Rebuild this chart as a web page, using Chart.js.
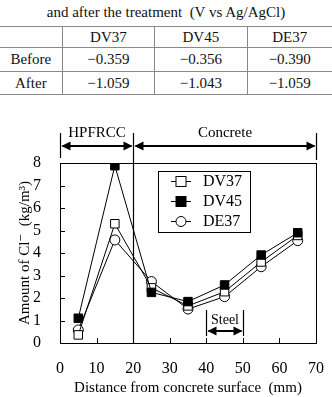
<!DOCTYPE html>
<html>
<head>
<meta charset="utf-8">
<script src="https://cdn.jsdelivr.net/npm/chart.js@4"></script>
<style>
  body { margin: 0; background: #fff; width: 332px; height: 397px; overflow: hidden; font-family: "Liberation Serif", "Times New Roman", "DejaVu Serif", serif; }
  #cap { position: absolute; top: 4px; left: 0; width: 332px; text-align: center; font-size: 15px; color: #111; }
  #tbl { position: absolute; top: 26px; left: 0; width: 332px; border-collapse: collapse; font-size: 15px; color: #111; font-family: inherit; }
  #tbl td { border: 1.5px solid #888; text-align: center; padding: 0; }
  #tbl tr td:first-child { border-left: none; }
  #tbl tr td:last-child { border-right: none; }
  #wrap { position: absolute; top: 120px; left: 0; width: 332px; height: 277px; }
</style>
</head>
<body>
<div id="cap">and after the treatment&nbsp;&nbsp;(V vs Ag/AgCl)</div>
<table id="tbl"></table>
<div id="wrap"><canvas id="myChart" width="332" height="277"></canvas></div>
<script>
// table values
var tableCols = ["DV37", "DV45", "DE37"];
var tableRows = ["Before", "After"];
var beforeVals = ["\u22120.359", "\u22120.356", "\u22120.390"];
var afterVals = ["\u22121.059", "\u22121.043", "\u22121.059"];

// chart values
var distances = [5, 15, 25, 35, 45, 55, 65];
var dv37 = [0.36, 5.3, 2.45, 1.65, 2.28, 3.6, 4.78];
var dv45 = [1.1, 7.88, 2.25, 1.84, 2.58, 3.91, 4.9];
var de37 = [0.58, 4.58, 2.73, 1.51, 2.06, 3.39, 4.55];
var seriesNames = ["DV37", "DV45", "DE37"];
var xTicks = [0, 10, 20, 30, 40, 50, 60, 70];
var yTicks = [0, 1, 2, 3, 4, 5, 6, 7, 8];

var tbl = document.getElementById("tbl");
var html = '<tr style="height:21px"><td style="width:62px"></td>';
tableCols.forEach(function (c, i) {
  html += '<td style="width:' + (i < 2 ? 92 : 85) + 'px">' + c + '</td>';
});
html += '</tr>';
[beforeVals, afterVals].forEach(function (vals, r) {
  html += '<tr style="height:' + (r === 0 ? 24 : 23) + 'px"><td>' + tableRows[r] + '</td>';
  vals.forEach(function (v) { html += '<td>' + v + '</td>'; });
  html += '</tr>';
});
tbl.innerHTML = html;

var serif = "\"Liberation Serif\", \"Times New Roman\", \"DejaVu Serif\", serif";

function pts(xs, ys) {
  return xs.map(function (x, i) { return { x: x, y: ys[i] }; });
}

function arrowHead(ctx, x, y, dir) {
  ctx.beginPath();
  ctx.moveTo(x, y);
  ctx.lineTo(x - dir * 9, y - 4.5);
  ctx.lineTo(x - dir * 9, y + 4.5);
  ctx.closePath();
  ctx.fill();
}

function arrow(ctx, x0, x1, y) {
  ctx.beginPath();
  ctx.moveTo(x0 + 2, y);
  ctx.lineTo(x1 - 2, y);
  ctx.stroke();
  arrowHead(ctx, x0 + 1, y, -1);
  arrowHead(ctx, x1 - 1, y, 1);
}

function drawMarker(ctx, style, x, y) {
  ctx.lineWidth = 1;
  ctx.strokeStyle = "#000";
  if (style === "circle") {
    ctx.fillStyle = "#fff";
    ctx.beginPath();
    ctx.arc(x, y, 5, 0, Math.PI * 2);
    ctx.fill();
    ctx.stroke();
  } else {
    ctx.fillStyle = style === "filled" ? "#000" : "#fff";
    ctx.fillRect(x - 5, y - 5, 10, 10);
    ctx.strokeRect(x - 5, y - 5, 10, 10);
  }
}

var decor = {
  id: "decor",
  beforeDatasetsDraw: function (chart) {
    var ctx = chart.ctx, a = chart.chartArea;
    var xs = chart.scales.x, ys = chart.scales.y;
    ctx.save();
    ctx.strokeStyle = "#000";
    ctx.fillStyle = "#000";
    ctx.lineWidth = 1;
    // frame
    ctx.strokeRect(a.left + 0.5, a.top + 0.5, a.right - a.left, a.bottom - a.top);
    // inward ticks
    ctx.beginPath();
    yTicks.forEach(function (t) {
      var py = Math.round(ys.getPixelForValue(t)) + 0.5;
      ctx.moveTo(a.left, py); ctx.lineTo(a.left + 5, py);
    });
    xTicks.forEach(function (t) {
      var px = Math.round(xs.getPixelForValue(t)) + 0.5;
      ctx.moveTo(px, a.bottom); ctx.lineTo(px, a.bottom - 5);
    });
    ctx.stroke();
    // region markers
    var p0 = Math.round(xs.getPixelForValue(0)) + 0.5;
    var p20 = Math.round(xs.getPixelForValue(20)) + 0.5;
    var p70 = Math.round(xs.getPixelForValue(70)) + 0.5;
    ctx.lineWidth = 1.2;
    ctx.beginPath();
    ctx.moveTo(p0, 13); ctx.lineTo(p0, 38);
    ctx.moveTo(p20, 13); ctx.lineTo(p20, a.bottom);
    ctx.moveTo(p70, 13); ctx.lineTo(p70, 40);
    ctx.stroke();
    ctx.lineWidth = 2;
    arrow(ctx, p0, p20, 26);
    arrow(ctx, p20, p70, 26);
    ctx.font = "15px " + serif;
    ctx.textAlign = "center";
    ctx.textBaseline = "middle";
    ctx.fillText("HPFRCC", (p0 + p20) / 2, 13);
    ctx.fillText("Concrete", (p20 + p70) / 2, 13);
    // steel zone
    var s0 = Math.round(xs.getPixelForValue(40)) + 0.5;
    var s1 = Math.round(xs.getPixelForValue(50)) + 0.5;
    ctx.lineWidth = 1.2;
    ctx.beginPath();
    ctx.moveTo(s0, 190); ctx.lineTo(s0, 216);
    ctx.moveTo(s1, 190); ctx.lineTo(s1, 216);
    ctx.stroke();
    ctx.lineWidth = 2;
    arrow(ctx, s0, s1, 211);
    ctx.font = "14px " + serif;
    ctx.fillText("Steel", (s0 + s1) / 2, 200);
    ctx.restore();
  },
  afterDatasetsDraw: function (chart) {
    var ctx = chart.ctx, a = chart.chartArea;
    ctx.save();
    var bx = a.left + 98, by = a.top + 8, bw = 92, bh = 61;
    ctx.fillStyle = "#fff";
    ctx.fillRect(bx, by, bw, bh);
    ctx.strokeStyle = "#000";
    ctx.lineWidth = 1;
    ctx.strokeRect(bx + 0.5, by + 0.5, bw, bh);
    var styles = ["open", "filled", "circle"];
    ctx.font = "16px " + serif;
    ctx.textBaseline = "middle";
    ctx.textAlign = "left";
    seriesNames.forEach(function (n, i) {
      var y = by + 10 + i * 20;
      ctx.beginPath();
      ctx.moveTo(bx + 13, y + 0.5); ctx.lineTo(bx + 33, y + 0.5);
      ctx.strokeStyle = "#000";
      ctx.lineWidth = 1;
      ctx.stroke();
      drawMarker(ctx, styles[i], bx + 23, y + 0.5);
      ctx.fillStyle = "#000";
      ctx.fillText(n, bx + 45, y + 1);
    });
    ctx.restore();
  }
};

function ds(label, vals, style, order) {
  return {
    label: label,
    data: pts(distances, vals),
    borderColor: "#000",
    borderWidth: 1,
    pointStyle: style === "circle" ? "circle" : "rect",
    pointRadius: style === "circle" ? 5 : 6,
    pointBackgroundColor: style === "filled" ? "#000" : "#fff",
    pointBorderColor: "#000",
    pointBorderWidth: 1,
    order: order
  };
}

function build() {
  Chart.defaults.font.family = serif;
  new Chart("myChart", {
    type: "line",
    data: {
      datasets: [
        ds(seriesNames[0], dv37, "open", 1),
        ds(seriesNames[1], dv45, "filled", 0),
        ds(seriesNames[2], de37, "circle", 2)
      ]
    },
    options: {
      responsive: false,
      animation: false,
      events: [],
      layout: { padding: { top: 43, right: 16, left: 0, bottom: 0 } },
      plugins: { legend: { display: false }, tooltip: { enabled: false } },
      scales: {
        x: {
          type: "linear", min: 0, max: 70,
          afterBuildTicks: function (s) { s.ticks = xTicks.map(function (v) { return { value: v }; }); },
          afterFit: function (s) { s.height = 54; },
          grid: { display: false },
          border: { display: false },
          ticks: { color: "#000", font: { family: serif, size: 16 }, padding: 8, maxRotation: 0 },
          title: { display: true, text: "Distance from concrete surface\u00a0\u00a0(mm)", color: "#000", font: { family: serif, size: 15 }, padding: { top: 0, bottom: 0 } }
        },
        y: {
          min: 0, max: 8,
          afterBuildTicks: function (s) { s.ticks = yTicks.map(function (v) { return { value: v }; }); },
          afterFit: function (s) { s.width = 60; },
          grid: { display: false },
          border: { display: false },
          ticks: { color: "#000", font: { family: serif, size: 16 }, padding: 11 },
          title: { display: true, text: "Amount of Cl\u207b\u00a0\u00a0(kg/m\u00b3)", color: "#000", font: { family: serif, size: 15 }, padding: { top: 16, bottom: 0 } }
        }
      }
    },
    plugins: [decor]
  });
}

document.fonts.load("16px \"Liberation Serif\"").then(build, build);
</script>
</body>
</html>
